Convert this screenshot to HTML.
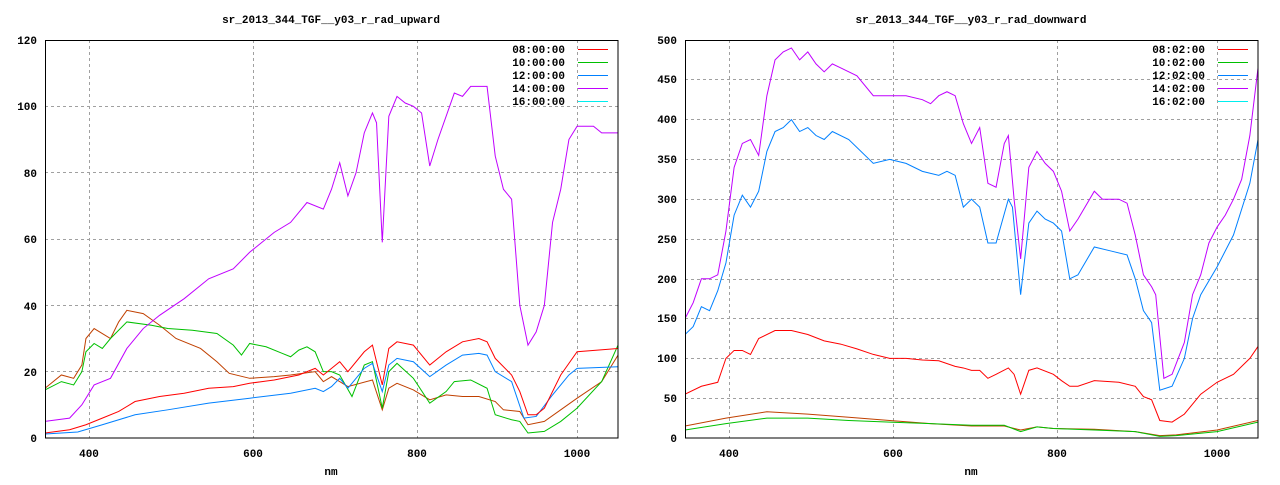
<!DOCTYPE html>
<html><head><meta charset="utf-8"><style>
body{margin:0;background:#fff}
text{font-family:"Liberation Mono","DejaVu Sans Mono",monospace;font-size:11px;font-weight:bold;fill:#000}
</style></head><body>
<svg width="1280" height="480" xmlns="http://www.w3.org/2000/svg">
<defs>
<clipPath id="cl"><rect x="45" y="40" width="573" height="398"/></clipPath>
<clipPath id="cr"><rect x="685" y="40" width="573" height="398"/></clipPath>
</defs>
<rect width="1280" height="480" fill="#fff"/>
<!-- LEFT -->
<text x="331" y="23" text-anchor="middle">sr_2013_344_TGF__y03_r_rad_upward</text>
<g stroke="#a0a0a0" stroke-dasharray="3,3" stroke-width="1">
<line x1="89.5" y1="40" x2="89.5" y2="438"/><line x1="253.5" y1="40" x2="253.5" y2="438"/><line x1="417.5" y1="40" x2="417.5" y2="438"/><line x1="577.5" y1="40" x2="577.5" y2="438"/>
<line x1="45" y1="371.5" x2="618" y2="371.5"/><line x1="45" y1="305.5" x2="618" y2="305.5"/><line x1="45" y1="239.5" x2="618" y2="239.5"/><line x1="45" y1="172.5" x2="618" y2="172.5"/><line x1="45" y1="106.5" x2="618" y2="106.5"/>
</g>
<g text-anchor="end">
<text x="37" y="442">0</text><text x="37" y="376">20</text><text x="37" y="310">40</text><text x="37" y="243">60</text><text x="37" y="177">80</text><text x="37" y="110">100</text><text x="37" y="44">120</text>
</g>
<g text-anchor="middle">
<text x="89" y="457">400</text><text x="253" y="457">600</text><text x="417" y="457">800</text><text x="577" y="457">1000</text>
<text x="331" y="475">nm</text>
</g>
<g clip-path="url(#cl)" fill="none" stroke-width="1">
<g transform="matrix(0.8186 0 0 -3.3167 -241.5 438)">
<polyline vector-effect="non-scaling-stroke" stroke="#c04000" points="350,15 370,19 385,18 395,22 400,30 410,33 420,31.5 430,30 440,35 450,38.5 470,37.5 490,34 510,30 540,27 560,23 575,19.5 600,18 630,18.5 650,19 680,20 690,17 700,18.5 720,15.5 750,17.5 762,8.5 770,15 780,16.5 800,14.5 820,11.5 840,13 860,12.5 880,12.5 900,11 910,8.5 930,8 940,4 960,5 980,8.5 1000,12 1030,17 1050,25"/>
<polyline vector-effect="non-scaling-stroke" stroke="#00c000" points="350,14.5 370,17 385,16 395,20 400,26 410,28.5 420,27 430,30 450,35 480,34 500,33 530,32.5 560,31.5 580,28 590,25 600,28.5 620,27.5 640,25.5 650,24.5 660,26.5 670,27.5 680,26 690,20 700,20 710,19 725,12.5 740,22 750,23 762,9 770,20 780,22.5 800,18 820,10.5 840,14 850,17 870,17.5 890,15 900,7 920,5.5 930,5 940,1.5 960,2 980,5 1000,9 1030,17 1050,28"/>
<polyline vector-effect="non-scaling-stroke" stroke="#0080ff" points="350,1.2 390,1.8 420,4 460,7 500,8.5 550,10.5 600,12 650,13.5 680,15 690,14 700,15.5 710,18 720,15 740,21 750,22.5 762,14 770,22 780,24 800,23 820,18.5 840,22 860,25 880,25.5 890,25 900,20 920,17 935,6 950,6.5 970,13 990,19 1000,21 1050,21.5"/>
<polyline vector-effect="non-scaling-stroke" stroke="#ff0000" points="350,1.5 380,2.5 400,4 420,6 440,8 460,11 490,12.5 520,13.5 550,15 580,15.5 600,16.5 630,17.5 660,19 680,21 690,19 700,21 710,23 720,20 740,26 750,28 762,16 770,27 780,29 800,28 820,22 840,26 860,29 880,30 890,29 900,24 920,19 930,14 940,7 950,7 960,9 980,19 1000,26 1050,27"/>
<polyline vector-effect="non-scaling-stroke" stroke="#c000ff" points="350,5 380,6 395,10 410,16 430,18 450,27 470,33 490,37 520,42 550,48 580,51 600,56 630,62 650,65 670,71 690,69 700,75 710,83 720,73 730,80 740,92 750,98 755,95 762,59 770,97 780,103 790,101 800,100 810,98 820,82 830,90 850,104 860,103 870,106 890,106 900,85 910,75 920,72 930,40 940,28 950,32 960,40 970,65 980,75 990,90 1000,94 1020,94 1030,92 1050,92"/>
</g></g>
<rect x="45.5" y="40.5" width="572.5" height="397.5" fill="none" stroke="#000"/>
<g text-anchor="end">
<text x="565" y="53">08:00:00</text><text x="565" y="66">10:00:00</text><text x="565" y="79">12:00:00</text><text x="565" y="92">14:00:00</text><text x="565" y="105">16:00:00</text>
</g>
<g stroke-width="1">
<line x1="578" y1="49.5" x2="608" y2="49.5" stroke="#ff0000"/><line x1="578" y1="62.5" x2="608" y2="62.5" stroke="#00c000"/><line x1="578" y1="75.5" x2="608" y2="75.5" stroke="#0080ff"/><line x1="578" y1="88.5" x2="608" y2="88.5" stroke="#c000ff"/><line x1="578" y1="101.5" x2="608" y2="101.5" stroke="#00eeee"/>
</g>
<!-- RIGHT -->
<text x="971" y="23" text-anchor="middle">sr_2013_344_TGF__y03_r_rad_downward</text>
<g stroke="#a0a0a0" stroke-dasharray="3,3" stroke-width="1">
<line x1="729.5" y1="40" x2="729.5" y2="438"/><line x1="893.5" y1="40" x2="893.5" y2="438"/><line x1="1057.5" y1="40" x2="1057.5" y2="438"/><line x1="1217.5" y1="40" x2="1217.5" y2="438"/>
<line x1="685" y1="398.5" x2="1258" y2="398.5"/><line x1="685" y1="358.5" x2="1258" y2="358.5"/><line x1="685" y1="318.5" x2="1258" y2="318.5"/><line x1="685" y1="279.5" x2="1258" y2="279.5"/><line x1="685" y1="239.5" x2="1258" y2="239.5"/><line x1="685" y1="199.5" x2="1258" y2="199.5"/><line x1="685" y1="159.5" x2="1258" y2="159.5"/><line x1="685" y1="119.5" x2="1258" y2="119.5"/><line x1="685" y1="79.5" x2="1258" y2="79.5"/>
</g>
<g text-anchor="end">
<text x="677" y="442">0</text><text x="677" y="402">50</text><text x="677" y="362">100</text><text x="677" y="322">150</text><text x="677" y="283">200</text><text x="677" y="243">250</text><text x="677" y="203">300</text><text x="677" y="163">350</text><text x="677" y="123">400</text><text x="677" y="83">450</text><text x="677" y="44">500</text>
</g>
<g text-anchor="middle">
<text x="729" y="457">400</text><text x="893" y="457">600</text><text x="1057" y="457">800</text><text x="1217" y="457">1000</text>
<text x="971" y="475">nm</text>
</g>
<g clip-path="url(#cr)" fill="none">
<g transform="matrix(0.8186 0 0 -0.796 398.5 438)">
<polyline vector-effect="non-scaling-stroke" stroke="#c04000" points="350,15 400,25 450,33 500,30 550,26 600,22 650,18 700,15 740,15 760,10 780,14 800,12 850,11 900,8 930,3 950,4 1000,10 1050,22"/>
<polyline vector-effect="non-scaling-stroke" stroke="#00c000" points="350,10 400,18 450,25 500,25 550,22 600,20 650,18 700,16 740,16 760,8 780,14 800,12 850,10 900,8 930,2 950,3 1000,8 1050,20"/>
<polyline vector-effect="non-scaling-stroke" stroke="#ff0000" points="350,55 370,65 390,70 400,100 410,110 420,110 430,105 440,125 460,135 480,135 500,130 520,122 540,118 560,112 580,105 600,100 620,100 640,98 660,97 680,90 690,88 700,85 710,85 720,75 730,80 745,88 752,80 760,55 770,85 780,88 800,80 810,72 820,65 830,65 850,72 880,70 900,65 910,52 920,48 930,22 945,20 960,30 980,55 1000,70 1020,80 1040,100 1050,115"/>
<polyline vector-effect="non-scaling-stroke" stroke="#0080ff" points="350,130 360,140 370,165 380,160 390,185 400,220 410,280 420,305 430,290 440,310 450,360 460,385 470,390 480,400 490,385 500,390 510,380 520,375 530,385 550,375 580,345 600,350 620,345 640,335 660,330 670,335 680,330 690,290 700,300 710,290 720,245 730,245 745,300 750,290 760,180 770,270 780,285 790,275 800,270 810,260 820,200 830,205 850,240 870,235 890,230 900,200 910,160 920,145 930,60 945,65 960,100 970,150 980,180 1000,215 1020,255 1040,320 1050,375"/>
<polyline vector-effect="non-scaling-stroke" stroke="#c000ff" points="350,150 360,170 370,200 380,200 390,205 400,260 410,340 420,370 430,375 440,355 450,430 460,475 470,485 480,490 490,475 500,485 510,470 520,460 530,470 540,465 560,455 580,430 600,430 620,430 640,425 650,420 660,430 670,435 680,430 690,395 700,370 710,390 720,320 730,315 740,370 745,380 752,300 760,225 770,340 780,360 790,345 800,335 810,310 820,260 830,275 850,310 860,300 880,300 890,295 900,255 910,205 920,190 925,180 935,75 945,80 960,120 970,180 980,205 990,245 1000,265 1010,280 1020,300 1030,325 1040,380 1050,465"/>
</g></g>
<rect x="685.5" y="40.5" width="572.5" height="397.5" fill="none" stroke="#000"/>
<g text-anchor="end">
<text x="1205" y="53">08:02:00</text><text x="1205" y="66">10:02:00</text><text x="1205" y="79">12:02:00</text><text x="1205" y="92">14:02:00</text><text x="1205" y="105">16:02:00</text>
</g>
<g stroke-width="1">
<line x1="1218" y1="49.5" x2="1248" y2="49.5" stroke="#ff0000"/><line x1="1218" y1="62.5" x2="1248" y2="62.5" stroke="#00c000"/><line x1="1218" y1="75.5" x2="1248" y2="75.5" stroke="#0080ff"/><line x1="1218" y1="88.5" x2="1248" y2="88.5" stroke="#c000ff"/><line x1="1218" y1="101.5" x2="1248" y2="101.5" stroke="#00eeee"/>
</g>
</svg>
</body></html>
